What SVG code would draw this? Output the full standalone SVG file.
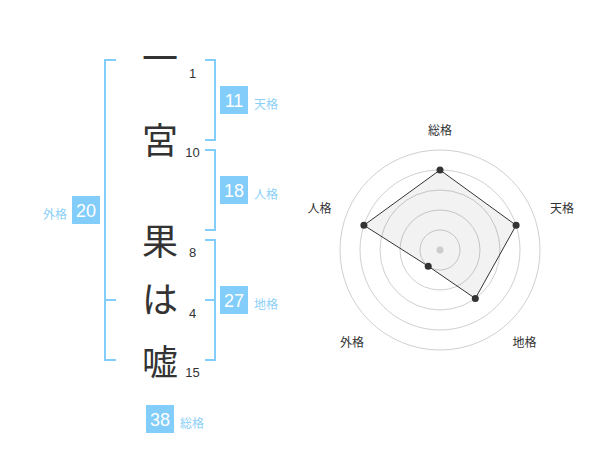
<svg xmlns="http://www.w3.org/2000/svg" width="600" height="470" viewBox="0 0 600 470">
<style>
.br{fill:none;stroke:#82cdf9;stroke-width:2}
.box{fill:#82cdf9}
.bn{font-family:"Liberation Sans",Arial,sans-serif;font-size:18px;fill:#fff;text-anchor:middle}
.lb{font-family:"Noto Sans CJK JP","Noto Sans CJK SC",sans-serif;font-size:12px;fill:#8ccff7}
.ch{font-family:"Noto Sans CJK JP","Noto Sans CJK SC",sans-serif;font-size:36px;fill:#333;text-anchor:middle}
.num{font-family:"Liberation Sans",Arial,sans-serif;font-size:13px;fill:#333;text-anchor:middle}
.rl{font-family:"Noto Sans CJK JP","Noto Sans CJK SC",sans-serif;font-size:12px;fill:#333;text-anchor:middle}
.ring{fill:none;stroke:#d0d0d0;stroke-width:1}
.dot{fill:#333}
</style>
<rect width="600" height="470" fill="#fff"/>
<g id="connectors">
<path class="br" d="M116,60 H105 V360 H116 M105,300 H116"/>
<path class="br" d="M205,60 H215 V140 H205"/>
<path class="br" d="M205,150 H215 V230 H205"/>
<path class="br" d="M205,240 H215 V360 H205 M205,300 H215"/>
</g>
<g id="chars">
<text class="ch" x="160" y="72">一</text>
<text class="ch" x="160" y="154">宮</text>
<text class="ch" x="160" y="255">果</text>
<text class="ch" x="160" y="313">は</text>
<text class="ch" x="160" y="376">嘘</text>
</g>
<g id="strokes">
<text class="num" x="192.5" y="78">1</text>
<text class="num" x="192.5" y="157">10</text>
<text class="num" x="192.5" y="257">8</text>
<text class="num" x="192.5" y="318">4</text>
<text class="num" x="192.5" y="377">15</text>
</g>
<g id="tenkaku">
<rect class="box" x="220" y="86" width="28" height="28"/>
<text class="bn" x="234" y="106.5">11</text>
<text class="lb" x="254" y="108.5">天格</text>
</g>
<g id="jinkaku">
<rect class="box" x="220" y="176" width="28" height="28"/>
<text class="bn" x="234" y="196.5">18</text>
<text class="lb" x="254" y="198.5">人格</text>
</g>
<g id="chikaku">
<rect class="box" x="220" y="286" width="28" height="28"/>
<text class="bn" x="234" y="306.5">27</text>
<text class="lb" x="254" y="308.5">地格</text>
</g>
<g id="gaikaku">
<rect class="box" x="72" y="196" width="28" height="28"/>
<text class="bn" x="86" y="216.5">20</text>
<text class="lb" x="67" y="218.5" text-anchor="end">外格</text>
</g>
<g id="soukaku">
<rect class="box" x="146" y="405" width="28" height="28"/>
<text class="bn" x="160" y="425.5">38</text>
<text class="lb" x="180" y="427.5">総格</text>
</g>
<g id="radar">
<circle class="ring" cx="440" cy="250" r="20"/>
<circle class="ring" cx="440" cy="250" r="40"/>
<circle class="ring" cx="440" cy="250" r="60"/>
<circle class="ring" cx="440" cy="250" r="80"/>
<circle class="ring" cx="440" cy="250" r="100"/>
<polygon points="440,170 516.1,225.3 475.3,298.5 428.2,266.2 363.9,225.3" fill="#000" fill-opacity="0.05" stroke="#333" stroke-width="1"/>
<circle cx="440" cy="250" r="3.5" fill="#ccc"/>
<circle class="dot" cx="440" cy="170" r="3.5"/>
<circle class="dot" cx="516.1" cy="225.3" r="3.5"/>
<circle class="dot" cx="475.3" cy="298.5" r="3.5"/>
<circle class="dot" cx="428.2" cy="266.2" r="3.5"/>
<circle class="dot" cx="363.9" cy="225.3" r="3.5"/>
<text class="rl" x="440" y="135">総格</text>
<text class="rl" x="562" y="213">天格</text>
<text class="rl" x="319.5" y="213">人格</text>
<text class="rl" x="352" y="347">外格</text>
<text class="rl" x="524.5" y="347">地格</text>
</g>
</svg>
